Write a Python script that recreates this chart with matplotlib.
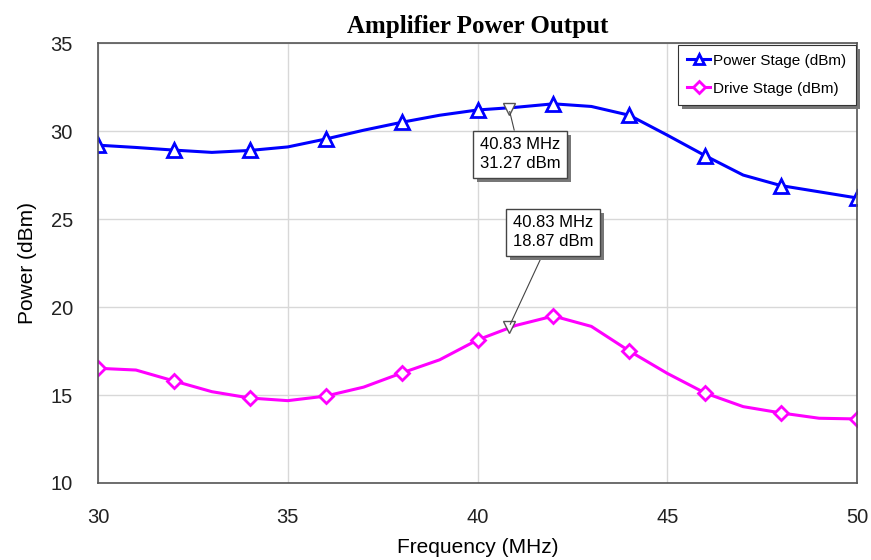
import numpy as np
import matplotlib.pyplot as plt
import matplotlib.patheffects as pe

# swept data, 1 MHz steps (markers every 2 MHz)
freq = [30, 31, 32, 33, 34, 35, 36, 37, 38, 39, 40,
        41, 42, 43, 44, 45, 46, 47, 48, 49, 50]
power_stage = [29.2, 29.07, 28.92, 28.79, 28.9, 29.1, 29.55, 30.05, 30.5, 30.9, 31.2,
               31.35, 31.55, 31.4, 30.9, 29.77, 28.6, 27.5, 26.9, 26.55, 26.2]
drive_stage = [16.52, 16.42, 15.8, 15.19, 14.83, 14.68, 14.94, 15.45, 16.25, 17.0, 18.13,
               18.95, 19.49, 18.9, 17.5, 16.23, 15.11, 14.34, 13.98, 13.68, 13.64]

marker_freq = 40.83
marker_power = 31.27
marker_drive = 18.87

fig = plt.figure(figsize=(8.71, 5.6), dpi=100)
ax = fig.add_axes([0.1125, 0.1375, 0.8715, 0.7855])

ax.plot(freq, power_stage, color='#0000ff', lw=2.2, marker='^', markevery=2,
        ms=10, mfc='white', mec='#0000ff', mew=2, label='Power Stage (dBm)')
ax.plot(freq, drive_stage, color='#ff00ff', lw=2.2, marker='D', markevery=2,
        ms=7.5, mfc='white', mec='#ff00ff', mew=2, label='Drive Stage (dBm)')

ax.set_xlim(30, 50)
ax.set_ylim(10, 35)
ax.set_xticks([30, 35, 40, 45, 50])
ax.set_yticks([10, 15, 20, 25, 30, 35])
ax.grid(True, color='#d8d8d8', lw=1)
ax.set_axisbelow(True)
ax.tick_params(length=0, labelsize=14.5, colors='#222222')
ax.tick_params(axis='x', pad=18)
ax.tick_params(axis='y', pad=18)
for s in ax.spines.values():
    s.set_color('#555555')
    s.set_linewidth(1.2)

ax.set_xlabel('Frequency (MHz)', fontsize=15, family='Liberation Sans', labelpad=8)
ax.set_ylabel('Power (dBm)', fontsize=15, family='Liberation Sans', labelpad=10)
for lbl in ax.get_xticklabels() + ax.get_yticklabels():
    lbl.set_family('Liberation Sans')
ax.set_title('Amplifier Power Output', fontsize=18, fontweight='bold',
             family='Liberation Serif', pad=7)

# marker readouts
shadow = [pe.withSimplePatchShadow(offset=(3, -3), shadow_rgbFace='#777777', alpha=1)]
for val, txt_xy in [(marker_power, (41.12, 28.69)), (marker_drive, (41.99, 24.26))]:
    ax.plot(marker_freq, val, marker='v', ms=9, mfc='white', mec='#555555', mew=1, zorder=5)
    t = ax.annotate('%.2f MHz\n%.2f dBm' % (marker_freq, val), xy=(marker_freq, val),
                    xytext=txt_xy, ha='center', va='center', fontsize=12,
                    family='Liberation Sans', linespacing=1.3,
                    bbox=dict(boxstyle='square,pad=0.4', fc='white', ec='#444444', lw=1),
                    arrowprops=dict(arrowstyle='-', color='#444444', lw=0.8,
                                    shrinkA=0, shrinkB=2), zorder=6)
    t.get_bbox_patch().set_path_effects(shadow)

leg = ax.legend(loc='upper right', prop={'family': 'Liberation Sans', 'size': 11},
                fancybox=False, edgecolor='#333333', framealpha=1, handlelength=1.5,
                handletextpad=0.2, borderpad=0.6, labelspacing=0.9,
                bbox_to_anchor=(1.0, 1.0), markerscale=0.75, borderaxespad=0.1)
leg.get_frame().set_linewidth(0.8)
leg.get_frame().set_path_effects(shadow)

fig.savefig('out.png', dpi=100)
